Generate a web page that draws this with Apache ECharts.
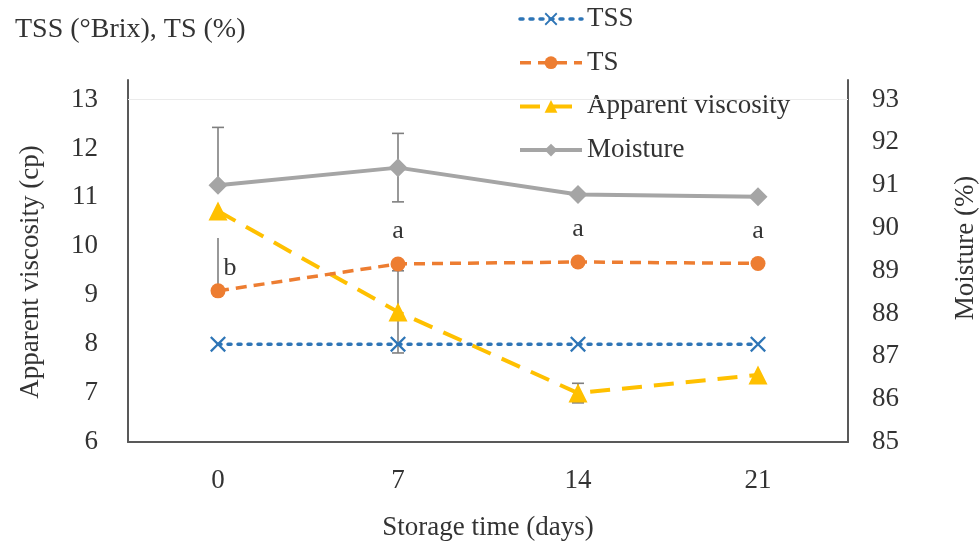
<!DOCTYPE html>
<html>
<head>
<meta charset="utf-8">
<script src="https://cdn.jsdelivr.net/npm/echarts@6/dist/echarts.min.js"></script>
<style>html,body{margin:0;padding:0;background:#fff;}#c{width:979px;height:551px;}</style>
</head>
<body>
<div id="c"></div>
<script>
const categories = ['0', '7', '14', '21'];
const tss = [8.0, 8.0, 8.0, 8.0];
const ts = [9.09, 9.64, 9.68, 9.65];
const tsLetters = ['b', 'a', 'a', 'a'];
const viscosity = [10.72, 8.66, 7.0, 7.37];
const moisture = [91.0, 91.41, 90.78, 90.73];
const moistureErrUp = [1.35, 0.8, 0, 0];
const moistureErrDown = [0, 0.8, 0, 0];
const viscosityErr = [0, 0.84, 0.2, 0];
const tsErrUp = [1.08, 0, 0, 0];
const leftTicks = { min: 6, max: 13, interval: 1 };
const rightTicks = { min: 85, max: 93, interval: 1 };

const FONT = 'Liberation Serif';
const TXT = '#333333';
const AX = '#595959';

// extra headroom so axis lines run a little above the top tick, like the original
const headroom = 0.4;

function errData(vals, up, down) {
  const out = [];
  vals.forEach((v, i) => {
    if (up[i] > 0 || down[i] > 0) out.push([i, v - down[i], v + up[i], up[i] > 0 ? 1 : 0, down[i] > 0 ? 1 : 0]);
  });
  return out;
}
function errRender(params, api) {
  const x = api.value(0);
  const lo = api.coord([x, api.value(1)]);
  const hi = api.coord([x, api.value(2)]);
  const cw = 6;
  const st = { stroke: '#7f7f7f', lineWidth: 1.6 };
  const children = [{ type: 'line', shape: { x1: hi[0], y1: hi[1], x2: lo[0], y2: lo[1] }, style: st }];
  if (api.value(3)) children.push({ type: 'line', shape: { x1: hi[0] - cw, y1: hi[1], x2: hi[0] + cw, y2: hi[1] }, style: st });
  if (api.value(4)) children.push({ type: 'line', shape: { x1: lo[0] - cw, y1: lo[1], x2: lo[0] + cw, y2: lo[1] }, style: st });
  return { type: 'group', children };
}

const tsData = ts.map((v, i) => {
  if (i === 0) {
    return { value: v, label: { show: true, position: 'inside', offset: [12, -23], formatter: tsLetters[i] } };
  }
  return { value: v, label: { show: true, position: 'top', distance: 12, formatter: tsLetters[i] } };
});

const chart = echarts.init(document.getElementById('c'), null, { renderer: 'canvas' });
chart.setOption({
  backgroundColor: '#ffffff',
  animation: false,
  textStyle: { fontFamily: FONT },
  title: {
    text: 'TSS (°Brix), TS (%)',
    left: 10, top: 11,
    textStyle: { fontFamily: FONT, fontSize: 28, fontWeight: 'normal', color: TXT }
  },
  legend: {
    orient: 'vertical',
    left: 513, top: 0,
    itemWidth: 62, itemHeight: 16, itemGap: 15.7, itemTextGap: 14,
    data: ['TSS', 'TS', 'Apparent viscosity', 'Moisture'],
    lineStyle: { width: 'inherit' },
    textStyle: { fontFamily: FONT, fontSize: 27, color: TXT, lineHeight: 28 }
  },
  grid: { left: 128, right: 131, top: 80, bottom: 109, outerBoundsMode: 'none', containLabel: false },
  xAxis: {
    type: 'category',
    data: categories,
    boundaryGap: true,
    name: 'Storage time (days)',
    nameLocation: 'middle',
    nameGap: 72,
    nameTextStyle: { fontFamily: FONT, fontSize: 27, color: TXT },
    axisLine: { lineStyle: { color: AX, width: 2 } },
    axisTick: { show: false },
    axisLabel: { fontFamily: FONT, fontSize: 27, color: TXT, margin: 25 },
    splitLine: { show: false }
  },
  yAxis: [
    {
      type: 'value',
      min: leftTicks.min,
      max: leftTicks.max + headroom,
      interval: leftTicks.interval,
      name: 'Apparent viscosity (cp)',
      nameLocation: 'middle',
      nameGap: 84,
      nameTextStyle: { fontFamily: FONT, fontSize: 27, color: TXT, padding: [0, 22, 0, 0] },
      axisLine: { show: true, lineStyle: { color: AX, width: 2 } },
      axisTick: { show: false },
      axisLabel: { fontFamily: FONT, fontSize: 27, color: TXT, margin: 30, showMaxLabel: false },
      splitLine: { show: false }
    },
    {
      type: 'value',
      min: rightTicks.min,
      max: rightTicks.max + headroom * (rightTicks.max - rightTicks.min) / (leftTicks.max - leftTicks.min),
      interval: rightTicks.interval,
      position: 'right',
      name: 'Moisture (%)',
      nameLocation: 'middle',
      nameGap: 104,
      nameTextStyle: { fontFamily: FONT, fontSize: 27, color: TXT, padding: [0, 0, 0, 26] },
      axisLine: { show: true, lineStyle: { color: AX, width: 2 } },
      axisTick: { show: false },
      axisLabel: { fontFamily: FONT, fontSize: 27, color: TXT, margin: 24, showMaxLabel: false },
      splitLine: { show: false }
    }
  ],
  series: [
    {
      name: 'errMoisture', type: 'custom', yAxisIndex: 1, z: 1, silent: true,
      renderItem: errRender, data: errData(moisture, moistureErrUp, moistureErrDown)
    },
    {
      name: 'errViscosity', type: 'custom', yAxisIndex: 0, z: 1, silent: true,
      renderItem: errRender, data: errData(viscosity, viscosityErr, viscosityErr)
    },
    {
      name: 'errTS', type: 'custom', yAxisIndex: 0, z: 1, silent: true,
      renderItem: errRender, data: errData(ts, tsErrUp, [0, 0, 0, 0]).map(d => [d[0], d[1], d[2], 0, 0])
    },
    {
      name: 'Moisture', type: 'line', yAxisIndex: 1, z: 3,
      data: moisture,
      symbol: 'diamond', symbolSize: 19,
      color: '#A5A5A5',
      itemStyle: { color: '#A5A5A5' },
      lineStyle: { color: '#A5A5A5', width: 4, type: 'solid' }
    },
    {
      name: 'Apparent viscosity', type: 'line', yAxisIndex: 0, z: 4,
      data: viscosity,
      symbol: 'triangle', symbolSize: 19,
      color: '#FFC000',
      itemStyle: { color: '#FFC000' },
      lineStyle: { color: '#FFC000', width: 4, type: [20, 12] }
    },
    {
      name: 'TS', type: 'line', yAxisIndex: 0, z: 5,
      data: tsData,
      symbol: 'circle', symbolSize: 15,
      color: '#ED7D31',
      itemStyle: { color: '#ED7D31' },
      lineStyle: { color: '#ED7D31', width: 3.5, type: [11, 7] },
      label: { fontFamily: FONT, fontSize: 26, color: TXT }
    },
    {
      name: 'TSS', type: 'line', yAxisIndex: 0, z: 6,
      data: tss,
      symbol: 'path://M0,1 L1,0 L5,4 L9,0 L10,1 L6,5 L10,9 L9,10 L5,6 L1,10 L0,9 L4,5 Z',
      symbolSize: 16,
      color: '#2E75B6',
      itemStyle: { color: '#2E75B6' },
      lineStyle: { color: '#2E75B6', width: 3.5, type: [3, 7], cap: 'round' },
      markLine: {
        silent: true, symbol: 'none', label: { show: false },
        lineStyle: { color: '#ebebeb', width: 1, type: 'solid' },
        data: [{ yAxis: leftTicks.max }]
      }
    }
  ]
});
</script>
</body>
</html>
